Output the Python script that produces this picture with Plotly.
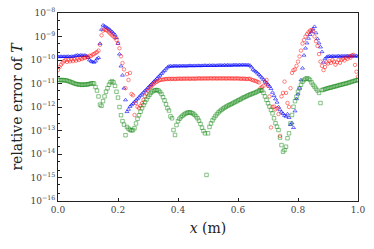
import numpy as np
import plotly.graph_objects as go

# x positions (m)
x_vals = [round(i * 0.005, 3) for i in range(201)]

# log10 of relative error
blue_log = [
    -9.86, -9.86, -9.85, -9.86, -9.85, -9.86, -9.85, -9.85, -9.86, -9.85,
    -9.85, -9.84, -9.81, -9.80, -9.81, -9.80, -9.80, -9.81, -9.80, -9.82,
    -9.90, -10.0, -10.05, -10.08, -10.10, -10.05, -9.95, -9.90, -9.30, -8.70,
    -8.52, -8.56, -8.60, -8.64, -8.69, -8.74, -8.80, -8.86, -8.93, -9.05,
    -9.30, -9.75, -10.26, -10.65, -11.20, -11.70, -12.20, -12.10, -11.98, -11.91,
    -11.85, -11.78, -11.71, -11.65, -11.58, -11.51, -11.45, -11.38, -11.31, -11.25,
    -11.18, -11.11, -11.05, -10.98, -10.91, -10.85, -10.78, -10.71, -10.65, -10.58,
    -10.51, -10.45, -10.38, -10.31, -10.27, -10.26, -10.27, -10.26, -10.25, -10.26,
    -10.26, -10.25, -10.26, -10.25, -10.25, -10.26, -10.25, -10.25, -10.24, -10.25,
    -10.25, -10.24, -10.25, -10.24, -10.24, -10.25, -10.24, -10.24, -10.23, -10.24,
    -10.24, -10.23, -10.24, -10.23, -10.23, -10.24, -10.23, -10.23, -10.22, -10.23,
    -10.23, -10.22, -10.23, -10.22, -10.22, -10.23, -10.22, -10.22, -10.21, -10.22,
    -10.22, -10.21, -10.22, -10.21, -10.21, -10.22, -10.21, -10.22, -10.23, -10.30,
    -10.40, -10.45, -10.50, -10.56, -10.62, -10.69, -10.76, -10.83, -10.90, -10.97,
    -11.04, -11.12, -11.22, -11.38, -11.52, -11.66, -11.80, -12.00, -12.12, -12.22,
    -12.28, -12.36, -12.40, -12.30, -12.45, -12.75, -12.68, -12.88, -12.17, -11.65,
    -11.45, -11.20, -10.85, -10.35, -9.80, -9.50, -9.28, -9.08, -8.92, -8.80,
    -8.68, -8.58, -8.85, -9.10, -9.28, -9.45, -9.65, -10.10, -9.95, -9.88,
    -9.85, -9.84, -9.85, -9.84, -9.84, -9.85, -9.84, -9.83, -9.84, -9.84,
    -9.83, -9.84, -9.83, -9.83, -9.84, -9.83, -9.83, -9.84, -9.83, -9.83,
    -9.84,
]

red_log = [
    -10.43, -10.30, -10.20, -10.12, -10.05, -10.00, -10.08, -10.00, -10.06, -9.98,
    -10.05, -9.97, -10.03, -9.95, -10.00, -9.93, -9.96, -9.90, -9.92, -9.86,
    -9.88, -9.82, -9.83, -9.77, -9.75, -9.70, -9.66, -9.60, -9.35, -8.95,
    -8.75, -8.70, -8.72, -8.76, -8.82, -8.88, -8.95, -9.00, -9.06, -9.15,
    -9.28, -9.50, -9.84, -10.13, -10.40, -11.20, -10.60, -10.85, -10.55, -11.45,
    -11.50, -12.34, -11.83, -11.99, -12.05, -11.95, -11.84, -11.70, -11.55, -11.42,
    -11.30, -11.20, -11.13, -11.06, -11.00, -10.95, -10.92, -10.88, -10.85, -10.84,
    -10.83, -10.82, -10.81, -10.81, -10.80, -10.81, -10.80, -10.80, -10.81, -10.80,
    -10.80, -10.79, -10.80, -10.80, -10.79, -10.80, -10.79, -10.79, -10.80, -10.79,
    -10.79, -10.80, -10.79, -10.79, -10.78, -10.79, -10.79, -10.78, -10.79, -10.78,
    -10.79, -10.78, -10.78, -10.79, -10.78, -10.78, -10.79, -10.78, -10.78, -10.79,
    -10.78, -10.78, -10.79, -10.78, -10.78, -10.79, -10.78, -10.79, -10.79, -10.78,
    -10.79, -10.79, -10.80, -10.79, -10.80, -10.80, -10.81, -10.80, -10.80, -10.84,
    -10.86, -10.88, -10.90, -10.93, -10.96, -11.20, -11.15, -11.10, -10.95, -10.85,
    -11.10, -11.55, -12.87, -12.00, -11.98, -12.10, -12.05, -12.30, -13.23, -11.55,
    -11.40, -10.92, -11.40, -11.83, -12.00, -11.20, -10.55, -10.43, -10.40, -10.25,
    -10.07, -9.85, -9.60, -9.30, -9.15, -9.00, -8.90, -8.82, -8.75, -8.72,
    -8.78, -9.00, -9.20, -9.40, -9.75, -10.07, -10.25, -10.43, -10.30, -10.10,
    -10.15, -10.05, -10.12, -10.00, -10.07, -10.20, -10.10, -10.00, -10.12, -10.00,
    -9.95, -10.02, -9.90, -9.95, -9.85, -9.90, -9.80, -9.78, -10.21, -10.50,
    -10.71,
]

green_log = [
    -10.84, -10.85, -10.86, -10.85, -10.87, -10.86, -10.88, -10.90, -10.92, -10.95,
    -10.97, -11.00, -11.02, -11.03, -11.05, -11.04, -11.06, -11.05, -11.04, -11.05,
    -11.03, -11.02, -11.00, -10.99, -11.00, -11.15, -11.30, -11.55, -11.90, -11.95,
    -11.75, -11.55, -11.35, -11.20, -11.05, -10.95, -10.90, -10.95, -11.10, -11.35,
    -11.60, -12.00, -12.35, -12.60, -12.75, -13.20, -12.85, -12.92, -12.97, -13.00,
    -12.98, -12.90, -12.70, -12.50, -12.35, -12.20, -12.05, -11.92, -11.80, -11.68,
    -11.57, -11.48, -11.40, -11.34, -11.30, -11.28, -11.28, -11.30, -11.36, -11.45,
    -11.58, -11.72, -11.88, -12.05, -12.15, -12.40, -12.48, -12.98, -13.19, -12.77,
    -12.60, -12.50, -12.43, -12.37, -12.32, -12.28, -12.25, -12.23, -12.23, -12.25,
    -12.28, -12.33, -12.40, -12.48, -12.58, -12.72, -12.88, -13.02, -13.12, -14.89,
    -13.12, -12.85, -12.70, -12.57, -12.47, -12.38, -12.30, -12.23, -12.17, -12.12,
    -12.07, -12.03, -11.99, -11.95, -11.92, -11.89, -11.86, -11.82, -11.79, -11.76,
    -11.72, -11.69, -11.66, -11.62, -11.59, -11.56, -11.53, -11.50, -11.47, -11.45,
    -11.42, -11.40, -11.37, -11.34, -11.30, -11.28, -11.30, -11.40, -11.55, -11.70,
    -11.84, -11.98, -12.13, -12.27, -12.48, -12.69, -12.84, -12.98, -13.30, -13.62,
    -13.90, -13.83, -13.69, -13.33, -13.12, -12.70, -12.34, -11.99, -11.75, -11.56,
    -11.35, -11.20, -11.05, -10.92, -10.85, -10.80, -10.78, -10.80, -10.85, -10.95,
    -11.05, -11.13, -11.22, -11.30, -11.40, -11.83, -11.28, -11.26, -11.24, -11.22,
    -11.20, -11.18, -11.17, -11.15, -11.13, -11.12, -11.10, -11.08, -11.06, -11.05,
    -11.03, -11.01, -11.00, -10.98, -10.96, -10.94, -10.92, -10.90, -10.88, -10.86,
    -10.85,
]

x_ticks = [0.0, 0.2, 0.4, 0.6, 0.8, 1.0]
x_tick_labels = ["0.0", "0.2", "0.4", "0.6", "0.8", "1.0"]
y_exponents = [-16, -15, -14, -13, -12, -11, -10, -9, -8]

blue_vals = [10.0 ** v for v in blue_log]
red_vals = [10.0 ** v for v in red_log]
green_vals = [10.0 ** v for v in green_log]

FONT = "DejaVu Serif"

fig = go.Figure()
fig.add_trace(go.Scatter(
    x=x_vals, y=blue_vals, mode="markers",
    marker=dict(symbol="triangle-up-open", size=3.5, color="rgba(0,0,255,0.65)",
                line=dict(width=0.9, color="rgba(0,0,255,0.65)")),
    showlegend=False))
fig.add_trace(go.Scatter(
    x=x_vals, y=red_vals, mode="markers",
    marker=dict(symbol="circle-open", size=3.5, color="rgba(255,0,0,0.6)",
                line=dict(width=0.8, color="rgba(255,0,0,0.6)")),
    showlegend=False))
fig.add_trace(go.Scatter(
    x=x_vals, y=green_vals, mode="markers",
    marker=dict(symbol="square-open", size=3.5, color="rgba(0,128,0,0.6)",
                line=dict(width=0.8, color="rgba(0,128,0,0.6)")),
    showlegend=False))

fig.update_layout(
    width=374, height=249,
    margin=dict(l=58, r=16, t=13, b=48),
    paper_bgcolor="white", plot_bgcolor="white",
    font=dict(family=FONT, size=9, color="#222"),
)
fig.update_xaxes(
    range=[0, 1], tickvals=x_ticks, ticktext=x_tick_labels,
    ticks="inside", ticklen=3.5, tickwidth=0.8, tickcolor="#222",
    showline=True, mirror=True, linecolor="#222", linewidth=1,
    showgrid=False, zeroline=False, automargin=False,
    tickfont=dict(family=FONT, size=9, color="#444"),
    title=dict(text="<i>x</i> (m)", font=dict(family=FONT, size=14, color="#222"), standoff=9),
)
fig.update_yaxes(
    type="log", range=[-16, -8],
    tickvals=[10.0 ** e for e in y_exponents],
    ticktext=["10<sup>\u2212%d</sup>" % (-e) for e in y_exponents],
    ticks="inside", ticklen=3.5, tickwidth=0.8, tickcolor="#222",
    minor=dict(ticks="inside", ticklen=2, tickwidth=0.6, tickcolor="#222", showgrid=False),
    showline=True, mirror=True, linecolor="#222", linewidth=1,
    showgrid=False, zeroline=False, automargin=False,
    tickfont=dict(family=FONT, size=9, color="#444"),
    title=dict(text="relative error of <i>T</i>", font=dict(family=FONT, size=14, color="#222"), standoff=4),
)

fig.write_html(
    "out.html",
    config={"displayModeBar": False},
    post_script="document.body.style.margin='0';document.body.style.overflow='hidden';",
)
